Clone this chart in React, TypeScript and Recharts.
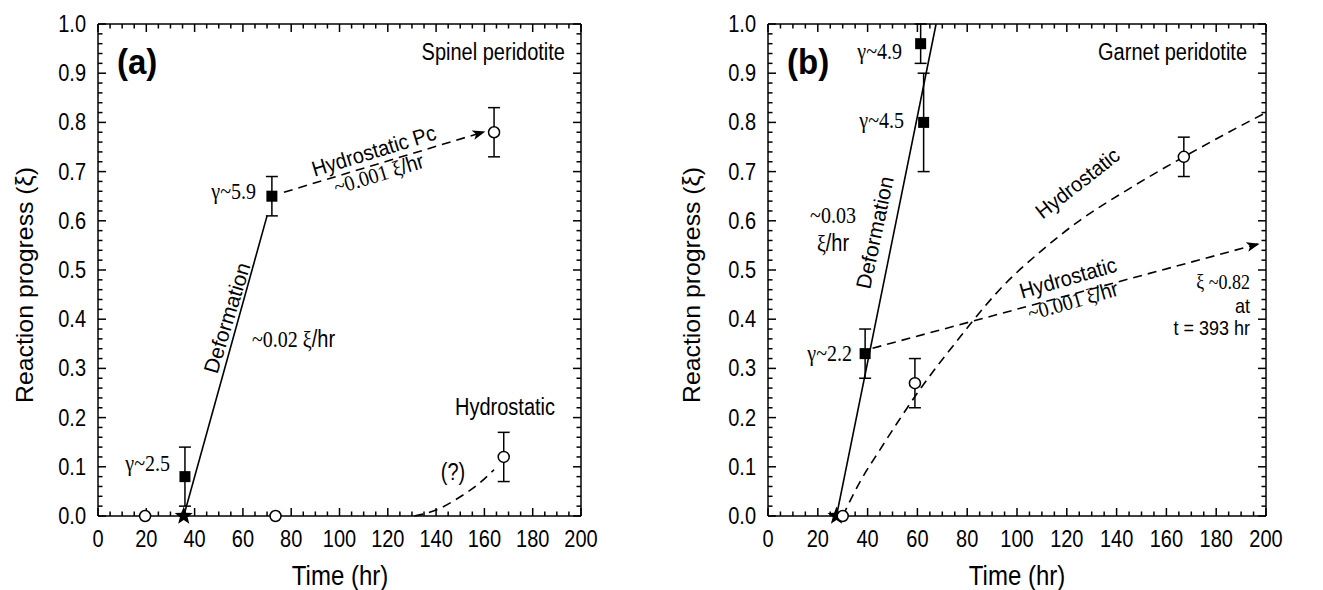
import React from "react";
import { ComposedChart, Line, Scatter, ErrorBar, XAxis, YAxis } from "recharts";

// ---- panel (a) spinel peridotite ----
const aDeformation = [
  { t: 35.5, xi: 0 },
  { t: 70, xi: 0.61 },
];
const aHydroPc = [
  { t: 77, xi: 0.658 },
  { t: 160, xi: 0.781 },
];
const aHydroCurve = [
  { t: 131, xi: 0 },
  { t: 140, xi: 0.012 },
  { t: 148, xi: 0.033 },
  { t: 157, xi: 0.063 },
  { t: 164, xi: 0.094 },
];
const aSquares = [
  { t: 36, xi: 0.08, err: 0.06 },
  { t: 72, xi: 0.65, err: 0.04 },
];
const aCirclesErr = [
  { t: 164, xi: 0.78, err: 0.05 },
  { t: 168, xi: 0.12, err: 0.05 },
];
const aCircles = [
  { t: 19.5, xi: 0 },
  { t: 73.5, xi: 0 },
];
const aStar = [{ t: 35.5, xi: 0 }];

// ---- panel (b) garnet peridotite ----
const bDeformation = [
  { t: 27.5, xi: 0 },
  { t: 67.5, xi: 1 },
];
const bHydroLine = [
  { t: 42, xi: 0.341 },
  { t: 197, xi: 0.553 },
];
const bHydroCurve = [
  { t: 30, xi: 0 },
  { t: 37, xi: 0.07 },
  { t: 45, xi: 0.135 },
  { t: 52, xi: 0.19 },
  { t: 60, xi: 0.25 },
  { t: 68, xi: 0.305 },
  { t: 75, xi: 0.35 },
  { t: 82, xi: 0.395 },
  { t: 93, xi: 0.46 },
  { t: 110, xi: 0.54 },
  { t: 125, xi: 0.6 },
  { t: 145, xi: 0.665 },
  { t: 167, xi: 0.73 },
  { t: 185, xi: 0.78 },
  { t: 200, xi: 0.82 },
];
const bSquares = [
  { t: 39, xi: 0.33, err: 0.05 },
  { t: 62.5, xi: 0.8, err: 0.1 },
  { t: 61.3, xi: 0.96, err: 0.04 },
];
const bCirclesErr = [
  { t: 59, xi: 0.27, err: 0.05 },
  { t: 167, xi: 0.73, err: 0.04 },
];
const bCircles = [{ t: 30, xi: 0 }];
const bStar = [{ t: 27.5, xi: 0 }];

// ---- axes ----
const X_DOMAIN = [0, 200];
const Y_DOMAIN = [0, 1];
const X_MAJOR = [0, 20, 40, 60, 80, 100, 120, 140, 160, 180, 200];
const Y_MAJOR = [0, 0.1, 0.2, 0.3, 0.4, 0.5, 0.6, 0.7, 0.8, 0.9, 1.0];

const steps = (lo: number, hi: number, step: number) =>
  Array.from({ length: Math.round((hi - lo) / step) + 1 }, (_, i) => +(lo + i * step).toFixed(4));
const X_MINOR = steps(0, 200, 5);
const Y_MINOR = steps(0, 1, 0.02);
const isMajY = (v: number) => Y_MAJOR.some((m) => Math.abs(m - v) < 1e-6);

// tick marks are drawn as point series sitting on the frame edges
const bottomTicks = X_MINOR.map((v) => ({ t: v, xi: Y_DOMAIN[0], major: X_MAJOR.includes(v) }));
const topTicks = X_MINOR.map((v) => ({ t: v, xi: Y_DOMAIN[1], major: X_MAJOR.includes(v) }));
const leftTicks = Y_MINOR.map((v) => ({ t: X_DOMAIN[0], xi: v, major: isMajY(v) }));
const rightTicks = Y_MINOR.map((v) => ({ t: X_DOMAIN[1], xi: v, major: isMajY(v) }));
const topEdge = [
  { t: X_DOMAIN[0], xi: Y_DOMAIN[1] },
  { t: X_DOMAIN[1], xi: Y_DOMAIN[1] },
];
const rightEdge = [
  { t: X_DOMAIN[1], xi: Y_DOMAIN[0] },
  { t: X_DOMAIN[1], xi: Y_DOMAIN[1] },
];

const SANS = "'Liberation Sans', Arial, sans-serif";
const SERIF = "'Liberation Serif', 'Times New Roman', serif";
const MAJ = 8;
const MIN = 4.5;
const STRETCH = 1.15; // the source glyphs are a bit taller than wide

function tickShape(dx: number, dy: number) {
  return (p: any) => {
    const len = p.payload && p.payload.major ? MAJ : MIN;
    return (
      <path d={`M${p.cx},${p.cy}L${p.cx + dx * len},${p.cy + dy * len}`} stroke="#000" strokeWidth={1.5} fill="none" />
    );
  };
}

function T({
  x,
  y,
  rot = 0,
  anchor = "start",
  serif = false,
  size = 20,
  bold = false,
  sy = STRETCH,
  children,
}: any) {
  return (
    <text
      transform={`translate(${x},${y}) rotate(${rot}) scale(1,${sy})`}
      textAnchor={anchor}
      fontFamily={serif ? SERIF : SANS}
      fontSize={size}
      fontWeight={bold ? "bold" : "normal"}
      fill="#000"
    >
      {children}
    </text>
  );
}

function BottomLabel(props: any) {
  const { x, y, payload } = props;
  return (
    <T x={x} y={y + 31} anchor="middle">
      {payload.value}
    </T>
  );
}

function LeftLabel(props: any) {
  const { x, y, payload } = props;
  return (
    <T x={x - 12} y={y + 8} anchor="end">
      {payload.value.toFixed(1)}
    </T>
  );
}

// ---- markers ----
const SquareMark = (p: any) => <rect x={p.cx - 5.5} y={p.cy - 5.5} width={11} height={11} fill="#000" />;
const CircleMark = (p: any) => (
  <circle cx={p.cx} cy={p.cy} r={5.5} fill="#fff" stroke="#000" strokeWidth={1.5} />
);
const StarMark = (p: any) => {
  const pts: string[] = [];
  for (let i = 0; i < 10; i++) {
    const r = i % 2 === 0 ? 9.5 : 4;
    const a = -Math.PI / 2 + (i * Math.PI) / 5;
    pts.push(`${p.cx + r * Math.cos(a)},${p.cy + r * Math.sin(a)}`);
  }
  return <polygon points={pts.join(" ")} fill="#000" />;
};

const lineProps = {
  dataKey: "xi",
  stroke: "#000",
  strokeWidth: 1.6,
  dot: false,
  activeDot: false,
  isAnimationActive: false,
  legendType: "none" as const,
};
const dash = "9 6";
const BLACK = { stroke: "#000", strokeWidth: 1.5 };

function Frame({ width, left, right, children }: { width: number; left: number; right: number; children: React.ReactNode }) {
  return (
    <ComposedChart width={width} height={590} margin={{ top: 24, right, bottom: 74, left }}>
      <XAxis
        dataKey="t"
        type="number"
        domain={X_DOMAIN}
        ticks={X_MAJOR}
        interval={0}
        height={0.01}
        tickSize={0}
        tickMargin={0}
        tickLine={false}
        axisLine={BLACK}
        tick={<BottomLabel />}
      />
      <YAxis
        type="number"
        domain={Y_DOMAIN}
        ticks={Y_MAJOR}
        interval={0}
        width={0.01}
        tickSize={0}
        tickMargin={0}
        tickLine={false}
        axisLine={BLACK}
        tick={<LeftLabel />}
      />
      <Line {...lineProps} data={topEdge} type="linear" strokeWidth={1.5} />
      <Line {...lineProps} data={rightEdge} type="linear" strokeWidth={1.5} />
      <Scatter data={bottomTicks} dataKey="xi" shape={tickShape(0, -1)} isAnimationActive={false} />
      <Scatter data={topTicks} dataKey="xi" shape={tickShape(0, 1)} isAnimationActive={false} />
      <Scatter data={leftTicks} dataKey="xi" shape={tickShape(1, 0)} isAnimationActive={false} />
      <Scatter data={rightTicks} dataKey="xi" shape={tickShape(-1, 0)} isAnimationActive={false} />
      {children}
    </ComposedChart>
  );
}

function errBar() {
  return <ErrorBar dataKey="err" direction="y" width={6} stroke="#000" strokeWidth={1.5} isAnimationActive={false} />;
}

function AxisTitles({ yx, xc }: { yx: number; xc: number }) {
  return (
    <>
      <T x={xc} y={585} anchor="middle" size={24}>
        Time (hr)
      </T>
      <text
        transform={`translate(${yx},285) rotate(-90) scale(1.08,1)`}
        textAnchor="middle"
        fontFamily={SANS}
        fontSize={23}
        fill="#000"
      >
        Reaction progress (ξ)
      </text>
    </>
  );
}

function PanelA() {
  return (
    <div style={{ position: "absolute", left: 0, top: 0, width: 661, height: 590 }}>
      <Frame width={661} left={98} right={80}>
        <Line {...lineProps} data={aDeformation} type="linear" />
        <Line {...lineProps} data={aHydroPc} type="linear" strokeDasharray={dash} markerEnd="url(#arrowHead)" />
        <Line {...lineProps} data={aHydroCurve} type="monotone" strokeDasharray={dash} />
        <Scatter data={aStar} dataKey="xi" shape={StarMark} isAnimationActive={false} />
        <Scatter data={aSquares} dataKey="xi" shape={SquareMark} isAnimationActive={false}>
          {errBar()}
        </Scatter>
        <Scatter data={aCirclesErr} dataKey="xi" shape={CircleMark} isAnimationActive={false}>
          {errBar()}
        </Scatter>
        <Scatter data={aCircles} dataKey="xi" shape={CircleMark} isAnimationActive={false} />
      </Frame>
      <svg width={661} height={590} style={{ position: "absolute", left: 0, top: 0, pointerEvents: "none" }}>
        <AxisTitles yx={33} xc={340} />
        <T x={117} y={74} size={33} bold sy={1.05}>
          (a)
        </T>
        <T x={565} y={60} anchor="end">
          Spinel peridotite
        </T>
        <T x={256} y={199} anchor="end" serif>
          γ~5.9
        </T>
        <T x={376} y={158} rot={-17} anchor="middle" sy={1.08}>
          Hydrostatic Pc
        </T>
        <text transform="translate(381,181) rotate(-17) scale(1,1.08)" textAnchor="middle" fontFamily={SERIF} fontSize={20}>
          ~0.001 ξ<tspan fontFamily={SANS}>/hr</tspan>
        </text>
        <T x={234} y={320} rot={-73} anchor="middle" size={21} sy={1}>
          Deformation
        </T>
        <text transform={`translate(252,347) scale(1,${STRETCH})`} fontFamily={SERIF} fontSize={20}>
          ~0.02 ξ<tspan fontFamily={SANS}>/hr</tspan>
        </text>
        <T x={505} y={415} anchor="middle">
          Hydrostatic
        </T>
        <T x={453} y={480} anchor="middle">
          (?)
        </T>
        <T x={170} y={471} anchor="end" serif>
          γ~2.5
        </T>
      </svg>
    </div>
  );
}

function PanelB() {
  return (
    <div style={{ position: "absolute", left: 661, top: 0, width: 662, height: 590 }}>
      <Frame width={662} left={107} right={57}>
        <Line {...lineProps} data={bDeformation} type="linear" />
        <Line {...lineProps} data={bHydroCurve} type="monotone" strokeDasharray={dash} />
        <Line {...lineProps} data={bHydroLine} type="linear" strokeDasharray={dash} markerEnd="url(#arrowHead)" />
        <Scatter data={bStar} dataKey="xi" shape={StarMark} isAnimationActive={false} />
        <Scatter data={bSquares} dataKey="xi" shape={SquareMark} isAnimationActive={false}>
          {errBar()}
        </Scatter>
        <Scatter data={bCirclesErr} dataKey="xi" shape={CircleMark} isAnimationActive={false}>
          {errBar()}
        </Scatter>
        <Scatter data={bCircles} dataKey="xi" shape={CircleMark} isAnimationActive={false} />
      </Frame>
      <svg width={662} height={590} style={{ position: "absolute", left: 0, top: 0, pointerEvents: "none" }}>
        <g transform="translate(-661,0)">
          <AxisTitles yx={700} xc={1017} />
          <T x={787} y={74} size={33} bold sy={1.05}>
            (b)
          </T>
          <T x={1247} y={60} anchor="end">
            Garnet peridotite
          </T>
          <T x={902} y={59} anchor="end" serif>
            γ~4.9
          </T>
          <T x={904} y={128} anchor="end" serif>
            γ~4.5
          </T>
          <T x={833} y={223} anchor="middle" serif>
            ~0.03
          </T>
          <text transform={`translate(833,251) scale(1,${STRETCH})`} textAnchor="middle" fontFamily={SERIF} fontSize={20}>
            ξ<tspan fontFamily={SANS}>/hr</tspan>
          </text>
          <T x={882} y={234} rot={-78} anchor="middle" size={21} sy={1}>
            Deformation
          </T>
          <T x={1082} y={189} rot={-38} anchor="middle" sy={1.05}>
            Hydrostatic
          </T>
          <T x={1070} y={285} rot={-16} anchor="middle" sy={1.08}>
            Hydrostatic
          </T>
          <text transform="translate(1075,308) rotate(-16) scale(1,1.08)" textAnchor="middle" fontFamily={SERIF} fontSize={20}>
            ~0.001 ξ<tspan fontFamily={SANS}>/hr</tspan>
          </text>
          <T x={1250} y={289} anchor="end" serif size={18}>
            ξ ~0.82
          </T>
          <T x={1250} y={313} anchor="end" size={18}>
            at
          </T>
          <T x={1250} y={335} anchor="end" size={18}>
            t = 393 hr
          </T>
          <T x={852} y={361} anchor="end" serif>
            γ~2.2
          </T>
        </g>
      </svg>
    </div>
  );
}

export default function App() {
  return (
    <div style={{ position: "absolute", left: 0, top: 0, width: 1323, height: 590, background: "#fff" }}>
      <svg width={0} height={0} style={{ position: "absolute" }}>
        <defs>
          <marker
            id="arrowHead"
            viewBox="0 0 12 10"
            refX="11"
            refY="5"
            markerWidth="13"
            markerHeight="11"
            markerUnits="userSpaceOnUse"
            orient="auto"
          >
            <path d="M0,0.5 L12,5 L0,9.5 L3,5 z" fill="#000" />
          </marker>
        </defs>
      </svg>
      <PanelA />
      <PanelB />
    </div>
  );
}
